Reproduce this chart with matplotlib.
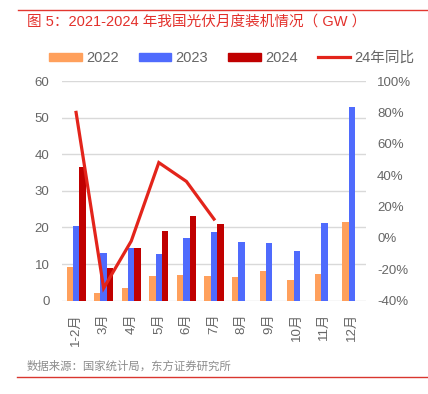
import matplotlib
matplotlib.use("Agg")
import matplotlib.pyplot as plt
import numpy as np
from matplotlib.lines import Line2D

plt.rcParams['font.family'] = ['Liberation Sans', 'Noto Sans CJK SC', 'DejaVu Sans']

months = ['1-2月', '3月', '4月', '5月', '6月', '7月', '8月', '9月', '10月', '11月', '12月']
v2022 = [9.1, 2.2, 3.6, 6.8, 7.0, 6.8, 6.6, 8.0, 5.6, 7.4, 21.6]
v2023 = [20.4, 13.1, 14.5, 12.8, 17.1, 18.7, 16.0, 15.7, 13.6, 21.2, 53.0]
v2024 = [36.6, 8.9, 14.3, 19.0, 23.2, 20.9]
yoy24 = [80, -32, -2, 48, 36, 12]

title = '图 5：2021-2024 年我国光伏月度装机情况（ GW ）'
source = '数据来源：国家统计局，东方证券研究所'

c22, c23, c24, cline = '#FFA05C', '#4F6BFD', '#C00000', '#E3241B'
gray = '#666666'

fig = plt.figure(figsize=(4.28, 3.94), dpi=100)
ax = fig.add_axes([62/428, 1-300.7/394, 304/428, 219.7/394])
ax2 = ax.twinx()

x = np.arange(len(months))
w = 0.23
ax.bar(x - w, v2022, w, color=c22, label='2022', zorder=2)
ax.bar(x, v2023, w, color=c23, label='2023', zorder=2)
ax.bar(x[:len(v2024)] + w, v2024, w, color=c24, label='2024', zorder=2)
ax2.plot(x[:len(yoy24)], yoy24, color=cline, lw=2.3, solid_joinstyle='miter', label='24年同比', zorder=3)

ax.set_xlim(-0.51, len(months) - 0.49)
ax.set_ylim(0, 60)
ax.set_yticks(range(0, 61, 10))
ax2.set_ylim(-40, 100)
ax2.set_yticks(range(-40, 101, 20))
ax2.set_yticklabels([f'{t}%' for t in range(-40, 101, 20)])

ax.grid(axis='y', color='#D9D9D9', lw=1, zorder=0)
ax.set_axisbelow(True)
for a in (ax, ax2):
    for s in a.spines.values():
        s.set_visible(False)
ax.set_xticks(x)
ax.set_xticklabels(months, rotation=90, fontsize=9.5, color=gray,
                   family=['Liberation Sans', 'Noto Sans CJK SC'])
ax.tick_params(axis='x', length=0, pad=9)
ax.tick_params(axis='y', length=0, pad=9, labelsize=9.5, labelcolor=gray)
ax2.tick_params(axis='y', length=0, pad=8, labelsize=9.5, labelcolor=gray)

handles = [plt.Rectangle((0, 0), 1, 1, color=c22),
           plt.Rectangle((0, 0), 1, 1, color=c23),
           plt.Rectangle((0, 0), 1, 1, color=c24),
           Line2D([0], [0], color=cline, lw=2.3)]
leg = fig.legend(handles, ['2022', '2023', '2024', '24年同比'], loc='center',
                 bbox_to_anchor=(0.542, 1-58/394), ncol=4, frameon=False,
                 handlelength=2.2, handleheight=0.5,
                 handletextpad=0.3, columnspacing=1.4,
                 prop={'family': ['Liberation Sans', 'Noto Sans CJK SC'], 'size': 10.5})
for t in leg.get_texts():
    t.set_color(gray)

fig.add_artist(Line2D([18/428, 1], [1-10/394, 1-10/394], color='#E3372F', lw=1.0))
fig.add_artist(Line2D([17/428, 1], [1-377/394, 1-377/394], color='#D9362F', lw=1.0))
fig.text(27/428, 1-22/394, title, color='#E3302B', fontsize=10.5, fontweight='medium',
         va='center', ha='left', family=['Liberation Sans', 'Noto Sans CJK SC'])
fig.text(27/428, 1-366/394, source, color='#8C8C8C', fontsize=8.2,
         va='center', ha='left', family=['Noto Sans CJK SC', 'DejaVu Sans'])

fig.savefig('out.png', dpi=100)
